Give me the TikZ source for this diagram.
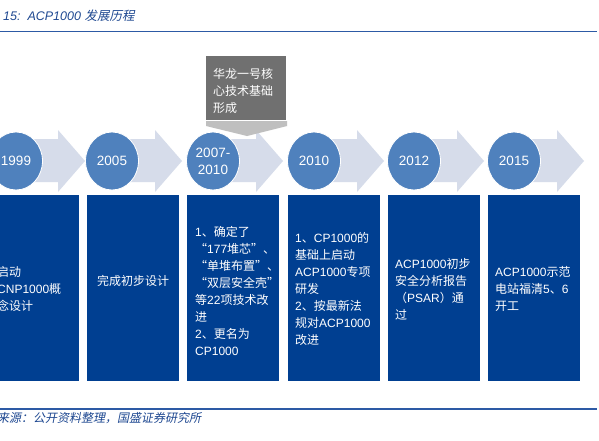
\documentclass[tikz,border=0pt]{standalone}
\usepackage{fontspec}
\setmainfont{Liberation Sans}
\newfontfamily\cjk{Noto Sans CJK SC}
\newfontfamily\cjksl[FakeSlant=0.2]{Noto Sans CJK SC}
\newcommand\zh[1]{{\cjk #1}}
\usetikzlibrary{shapes.geometric}
\definecolor{boxblue}{RGB}{0,63,145}
\definecolor{circblue}{RGB}{79,129,189}
\definecolor{arrowgray}{RGB}{214,220,234}
\definecolor{calloutdark}{RGB}{112,112,112}
\definecolor{calloutlight}{RGB}{191,191,191}
\definecolor{titleblue}{RGB}{30,72,145}
\definecolor{ruleblue}{RGB}{45,90,165}
\begin{document}
\begin{tikzpicture}[x=1pt,y=-1pt,
  yearc/.style={ellipse, fill=circblue, draw=white, line width=0.8pt,
    minimum width=53pt, minimum height=58pt, inner sep=0pt,
    text=white, align=center, font=\fontsize{13.5}{17}\selectfont},
  bluebox/.style={fill=boxblue, minimum width=92pt, minimum height=186pt,
    anchor=north west, inner sep=0pt},
  boxtext/.style={anchor=north west, inner sep=0pt, text=white, align=left,
    font=\fontsize{12}{17}\selectfont},
  rule/.style={draw=ruleblue, line width=1.4pt}
]
\useasboundingbox (0,0) rectangle (599,440);
\fill[white] (0,0) rectangle (599,440);
\clip (0,0) rectangle (599,440);

% title
\node[anchor=base west, inner sep=0pt, text=titleblue,
  font=\fontsize{12.5}{15}\selectfont] (title) at (3,20)
  {{\itshape 15:\ \ ACP1000} {\cjksl 发展历程}};
\coordinate (tl) at (0,31.5);
\coordinate (tr) at (597,31.5);
\draw[rule] (tl) -- (tr);

% arrows
\foreach \c in {15,112,213,314,414,514}{
  \fill[arrowgray] (\c,139) -- ({\c+43},139) -- ({\c+43},130) -- ({\c+70},161)
    -- ({\c+43},192) -- ({\c+43},182) -- (\c,182) -- cycle;
}

% year circles
\node[yearc] (c1999) at (16,161) {1999};
\node[yearc] (c2005) at (112,161) {2005};
\node[yearc] (c2007) at (213,161) {2007-\\2010};
\node[yearc] (c2010) at (314,161) {2010};
\node[yearc] (c2012) at (414,161) {2012};
\node[yearc] (c2015) at (514,161) {2015};

% callout
\fill[calloutlight] (206,121) -- (287,121) -- (287,126) -- (247,136) -- (206,126) -- cycle;
\node[fill=calloutdark, minimum width=80pt, minimum height=64pt,
  anchor=north west, inner sep=0pt] (callout) at (206,56) {};
\node[boxtext] (callouttext) at (213,68.5)
  {\zh{华龙一号核}\\\zh{心技术基础}\\\zh{形成}};

% boxes
\node[bluebox] (b1999) at (-13,195) {};
\node[bluebox] (b2005) at (87,195) {};
\node[bluebox] (b2007) at (187,195) {};
\node[bluebox] (b2010) at (288,195) {};
\node[bluebox] (b2012) at (388,195) {};
\node[bluebox] (b2015) at (488,195) {};

\node[boxtext] (t1999) at (-3,266.5)
  {\zh{启动}\\CNP1000\zh{概}\\\zh{念设计}};
\node[anchor=center, inner sep=0pt, text=white,
  font=\fontsize{12}{17}\selectfont] (t2005) at (133,281) {\zh{完成初步设计}};
\node[boxtext] (t2007) at (195,226.5)
  {1\zh{、确定了}\\\zh{“}177\zh{堆芯”、}\\\zh{“单堆布置”、}\\\zh{“双层安全壳”}\\\zh{等}22\zh{项技术改}\\\zh{进}\\2\zh{、更名为}\\CP1000};
\node[boxtext] (t2010) at (295,232.5)
  {1\zh{、}CP1000\zh{的}\\\zh{基础上启动}\\ACP1000\zh{专项}\\\zh{研发}\\2\zh{、按最新法}\\\zh{规对}ACP1000\\\zh{改进}};
\node[boxtext] (t2012) at (395,258.5)
  {ACP1000\zh{初步}\\\zh{安全分析报告}\\\zh{（}PSAR\zh{）通}\\\zh{过}};
\node[boxtext] (t2015) at (495,266.5)
  {ACP1000\zh{示范}\\\zh{电站福清}5\zh{、}6\\\zh{开工}};

% source
\coordinate (bl) at (0,409);
\coordinate (br) at (597,409);
\draw[rule, line width=1.2pt] (bl) -- (br);
\node[anchor=base west, inner sep=0pt, text=titleblue,
  font=\fontsize{12}{14}\selectfont] (src) at (-3,422.5)
  {\cjksl 来源：公开资料整理，国盛证券研究所};
\end{tikzpicture}
\end{document}
